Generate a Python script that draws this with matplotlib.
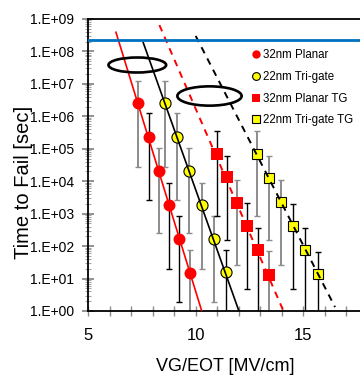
import matplotlib
matplotlib.use("Agg")
import matplotlib.pyplot as plt
from matplotlib.patches import Ellipse
from matplotlib.ticker import FixedLocator, LogLocator, FuncFormatter, NullFormatter
import numpy as np

plt.rcParams['font.family'] = ['Liberation Sans', 'DejaVu Sans']

# ---------------- data ----------------
labels = ["32nm Planar", "22nm Tri-gate", "32nm Planar TG", "22nm Tri-gate TG"]

x_planar = [7.33, 7.82, 8.32, 8.78, 9.25, 9.73]
y_planar = [2.63e6, 2.24e5, 2.09e4, 1.9e3, 162, 14.5]
top_planar = [1.26e7, 1.23e6, 1.02e5, 8.9e3, 851, 74]
bot_planar = [2.75e4, 2.7e3, 251, 20.4, 1.86, 0.16]

x_trigate = [8.60, 9.15, 9.71, 10.29, 10.86, 11.42]
y_trigate = [2.63e6, 2.24e5, 2.09e4, 1.9e3, 162, 15.5]
top_trigate = [1.26e7, 1.23e6, 1.02e5, 8.9e3, 851, 74]
bot_trigate = [2.75e4, 2.7e3, 251, 20.4, 1.86, 0.16]

x_planar_tg = [10.98, 11.48, 11.94, 12.41, 12.92, 13.40]
y_planar_tg = [7.1e4, 1.35e4, 2.19e3, 407, 74, 13.2]
top_planar_tg = [3.47e5, 6.0e4, 1.07e4, 2.14e3, 363, 71]
bot_planar_tg = [830, 158, 25.7, 4.7, 0.87, 0.16]

x_trigate_tg = [12.86, 13.42, 13.99, 14.55, 15.11, 15.68]
y_trigate_tg = [7.1e4, 1.29e4, 2.24e3, 407, 74, 13.5]
top_trigate_tg = [3.47e5, 6.0e4, 1.07e4, 2.0e3, 363, 66]
bot_trigate_tg = [830, 158, 25.7, 4.7, 0.87, 0.16]

# fitted trend lines (end points)
fit_planar_x = [6.30, 10.29]
fit_planar_y = [3.9e8, 1.0]
fit_trigate_x = [7.57, 12.02]
fit_trigate_y = [1.86e8, 1.0]
fit_planar_tg_x = [8.32, 14.09]
fit_planar_tg_y = [6.5e8, 1.0]
fit_trigate_tg_x = [10.01, 16.49]
fit_trigate_tg_y = [3.0e8, 1.32]

spec_time = 2.3e8

xticks = [5, 10, 15]
xtick_labels = ["5", "10", "15"]
yticks = [1e0, 1e1, 1e2, 1e3, 1e4, 1e5, 1e6, 1e7, 1e8, 1e9]

# error bar colours (gray / black) per point
GR = '#8c8c8c'
BK = '#000000'
ecol_planar = [GR, BK, GR, BK, BK, GR]
ecol_trigate = [GR, GR, GR, GR, GR, BK]
ecol_planar_tg = [BK, BK, GR, BK, BK, GR]
ecol_trigate_tg = [GR, GR, GR, BK, BK, BK]

# ---------------- figure ----------------
W, H = 360, 377
fig = plt.figure(figsize=(W / 100, H / 100), dpi=100)
ax = fig.add_axes([88 / W, (H - 311) / H, (W - 88) / W, 292 / H])
ax.set_yscale('log')
ax.set_xlim(5, 5 + 272 / 21.5)
ax.set_ylim(1, 1e9)


def draw_err(xs, ys, tops, bots, cols):
    for xv, yv, t, b, c in zip(xs, ys, tops, bots, cols):
        cont = ax.errorbar([xv], [yv], yerr=[[yv - b], [t - yv]], fmt='none',
                           ecolor=c, elinewidth=1.4 if c == GR else 1.0,
                           capsize=2.3, capthick=1.0, zorder=2)
        for cap in cont[1]:
            cap.set_color('black')


draw_err(x_planar, y_planar, top_planar, bot_planar, ecol_planar)
draw_err(x_trigate, y_trigate, top_trigate, bot_trigate, ecol_trigate)
draw_err(x_planar_tg, y_planar_tg, top_planar_tg, bot_planar_tg, ecol_planar_tg)
draw_err(x_trigate_tg, y_trigate_tg, top_trigate_tg, bot_trigate_tg, ecol_trigate_tg)

h1, = ax.plot(x_planar, y_planar, 'o', ms=8.6, mfc='#ff0000', mec='#ff0000',
              mew=0, zorder=3, label=labels[0])
h2, = ax.plot(x_trigate, y_trigate, 'o', ms=8.0, mfc='#ffff00', mec='black',
              mew=0.8, zorder=3, label=labels[1])
h3, = ax.plot(x_planar_tg, y_planar_tg, 's', ms=8.2, mfc='#ff0000', mec='#ff0000',
              mew=0, zorder=3, label=labels[2])
h4, = ax.plot(x_trigate_tg, y_trigate_tg, 's', ms=7.8, mfc='#ffff00', mec='black',
              mew=0.8, zorder=3, label=labels[3])

ax.plot(fit_planar_x, fit_planar_y, '-', color='#ff0000', lw=1.2, zorder=4)
ax.plot(fit_trigate_x, fit_trigate_y, '-', color='black', lw=1.2, zorder=4)
ax.plot(fit_planar_tg_x, fit_planar_tg_y, '--', color='#ff0000', lw=1.4,
        dashes=(3.5, 3), zorder=4)
ax.plot(fit_trigate_tg_x, fit_trigate_tg_y, '--', color='black', lw=1.4,
        dashes=(3.5, 3), zorder=4)

ax.axhline(spec_time, color='#0070c0', lw=2.0, zorder=4)

# ellipses
for cx, cy, ew, eh in [(137.3, 65, 57.7, 15), (209.5, 96, 64.3, 19.3)]:
    ax.add_patch(Ellipse(((cx - 88) / 272, (311 - cy) / 292), ew / 272, eh / 292,
                         transform=ax.transAxes, fill=False, ec='black', lw=1.9,
                         zorder=5))

# axes styling
for s in ['left', 'bottom', 'top']:
    ax.spines[s].set_color('black')
    ax.spines[s].set_linewidth(1.3)
ax.spines['right'].set_visible(False)

ax.xaxis.set_major_locator(FixedLocator(xticks))
ax.set_xticklabels(xtick_labels)
ax.xaxis.set_minor_locator(FixedLocator(list(range(5, 18))))
ax.tick_params(axis='x', which='both', direction='inout', length=7, width=1.0,
               color='#8c8c8c', labelsize=12, pad=9)

ax.yaxis.set_major_locator(FixedLocator(yticks))
ax.yaxis.set_major_formatter(FuncFormatter(lambda v, p: "1.E+%02d" % int(round(np.log10(v)))))
ax.yaxis.set_minor_locator(LogLocator(base=10, subs=np.arange(2, 10), numticks=20))
ax.yaxis.set_minor_formatter(NullFormatter())
ax.tick_params(axis='y', which='major', direction='inout', length=8, width=1.2,
               color='#7f7f7f', labelsize=10, pad=6)
ax.tick_params(axis='y', which='minor', direction='inout', length=5, width=0.8,
               color='#a6a6a6')
ax.tick_params(axis='both', labelcolor='black')

ax.set_xlabel("VG/EOT [MV/cm]", fontsize=13)
ax.xaxis.label.set_va('center')
ax.xaxis.set_label_coords((225 - 88) / 272, (311 - 366.5) / 292)
ax.set_ylabel("Time to Fail [sec]", fontsize=14.5)
ax.yaxis.label.set_va('center')
ax.yaxis.set_label_coords((24 - 88) / 272, (311 - 182) / 292)

leg = ax.legend(handles=[h1, h2, h3, h4], loc='upper left',
                bbox_to_anchor=((252.5 - 88) / 272, (311 - 49) / 292),
                frameon=False, fontsize=8.3, markerscale=0.7, handlelength=0.6,
                handletextpad=0.3, labelspacing=0.85, borderpad=0,
                borderaxespad=0)

fig.savefig("out.png", dpi=100)
